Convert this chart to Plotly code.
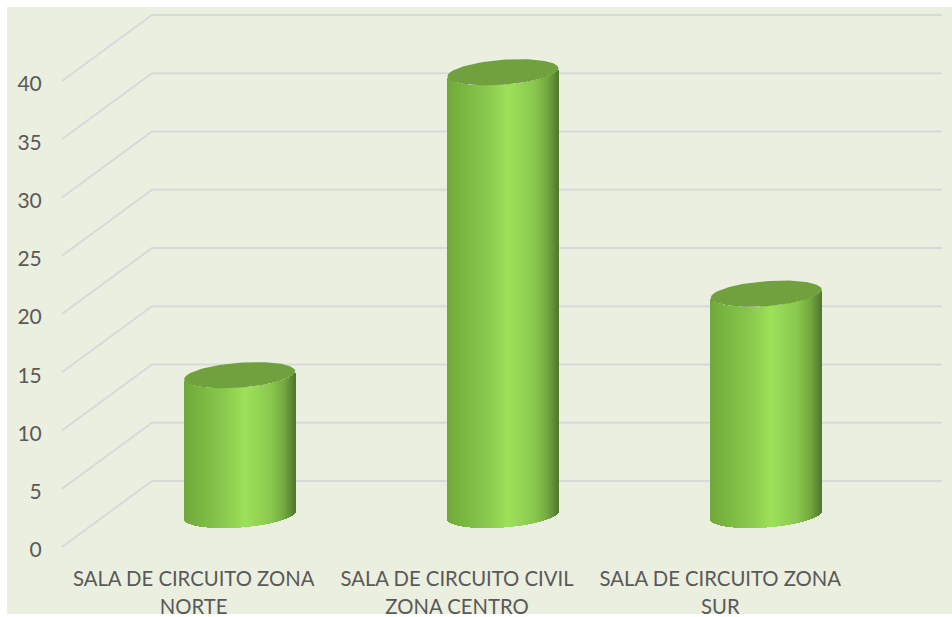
import math
import plotly.graph_objects as go

categories = [["SALA DE CIRCUITO ZONA", "NORTE"], ["SALA DE CIRCUITO CIVIL", "ZONA CENTRO"], ["SALA DE CIRCUITO ZONA", "SUR"]]
values = [12, 38, 19]
y_ticks = [0, 5, 10, 15, 20, 25, 30, 35, 40]

# figure geometry (pixels)
W, H = 952, 617
L, R, T, B = 62, 942, 8, 552
PX_X = 790 / 3          # px per category
PX_Y = 11.65            # px per value unit
ZERO = 547
DEPTH_X = 90 / PX_X     # wall offset, category units
DEPTH_Y = 66 / PX_Y     # wall offset, value units

x_range = [-0.5, -0.5 + (R - L) / PX_X]
y_range = [(ZERO - B) / PX_Y, (ZERO - T) / PX_Y]

BG = "#EBEFDF"
GRID = "#D7DADA"
TEXT = "#595959"
CAP = "#71A13E"
STOPS = [(0, (112, 168, 58)), (0.12, (120, 180, 64)), (0.35, (136, 199, 76)), (0.55, (157, 225, 90)),
         (0.78, (138, 200, 78)), (0.9, (116, 170, 64)), (0.97, (92, 136, 52)), (1, (82, 120, 48))]


def grad(t):
    for (a, ca), (b, cb) in zip(STOPS, STOPS[1:]):
        if t <= b:
            f = (t - a) / (b - a)
            return "rgb(%d,%d,%d)" % tuple(round(p + (q - p) * f) for p, q in zip(ca, cb))
    return "rgb(82,120,48)"


A_PX, B_PX, S_PX = 55.5, 12.5, 4.0   # ellipse half width, half height, shear
CYL_X = 46 / PX_X                    # cylinder centre offset from tick
CYL_Y = 32 / PX_Y                    # cylinder base lift


def ell_y(dx, sign):
    """Vertical offset (value units) of ellipse edge at dx px from centre; sign=+1 upper, -1 lower."""
    u = max(-1.0, min(1.0, dx / A_PX))
    return (S_PX * u + sign * B_PX * math.sqrt(1 - u * u)) / PX_Y


fig = go.Figure()

# wall grid lines with their floor-to-wall diagonals
grid_shapes = []
for t in y_ticks:
    grid_shapes.append(dict(
        type="path", xref="x", yref="y", layer="below", line=dict(color=GRID, width=2),
        path=f"M {-0.5} {t} L {-0.5 + DEPTH_X} {t + DEPTH_Y} L {x_range[1]} {t + DEPTH_Y}"))

N = 111
for i, v in enumerate(values):
    cx = i + CYL_X
    xs, bases, heights, cols = [], [], [], []
    for k in range(N):
        dx = k + 0.5 - N / 2
        xs.append(cx + dx / PX_X)
        b = CYL_Y + ell_y(dx, -1)
        top = CYL_Y + v + ell_y(dx, -1)
        bases.append(b)
        heights.append(top - b)
        cols.append(grad((k + 0.5) / N))
    fig.add_trace(go.Bar(x=xs, y=heights, base=bases, width=1 / PX_X, marker=dict(color=cols, line=dict(width=0)),
                         hoverinfo="skip", showlegend=False))
    rim_dx = [A_PX * math.cos(math.pi * j / 60) for j in range(61)]
    fig.add_trace(go.Scatter(
        x=[cx + d / PX_X for d in rim_dx] + [cx + d / PX_X for d in reversed(rim_dx)],
        y=[CYL_Y + v + ell_y(d, 1) for d in rim_dx] + [CYL_Y + v + ell_y(d, -1) for d in reversed(rim_dx)],
        mode="lines", fill="toself", fillcolor=CAP, line=dict(width=0), hoverinfo="skip", showlegend=False))

LABEL_PX = 20.3
tick_text = [f'<span style="font-size:{LABEL_PX}px">{a}</span><br><span style="font-size:{LABEL_PX}px">{b}</span>'
             for a, b in categories]

fig.update_layout(
    width=W, height=H, autosize=False,
    margin=dict(l=L, r=W - R, t=T, b=H - B, pad=0),
    paper_bgcolor="white", plot_bgcolor="rgba(0,0,0,0)",
    barmode="overlay", bargap=0, showlegend=False,
    font=dict(family="Lato, Carlito, sans-serif", color=TEXT, size=21),
    xaxis=dict(range=x_range, tickmode="array", tickvals=[0, 1, 2], ticktext=tick_text, automargin=False,
               showgrid=False, zeroline=False, showline=False, ticks="outside", ticklen=7,
               tickcolor="rgba(0,0,0,0)", tickfont=dict(size=21.5, color=TEXT), tickangle=0),
    yaxis=dict(range=y_range, tickmode="array", tickvals=y_ticks, ticktext=[str(t) for t in y_ticks], automargin=False,
               showgrid=False, zeroline=False, showline=False, ticks="outside", ticklen=15, ticklabelshift=3,
               tickcolor="rgba(0,0,0,0)", tickfont=dict(size=21, color=TEXT)),
    shapes=[
        dict(type="rect", xref="paper", yref="paper", layer="below", line=dict(width=0), fillcolor=BG,
             x0=(7 - L) / (R - L), x1=(W - L) / (R - L), y0=(B - 614) / (B - T), y1=(B - 7) / (B - T)),
    ] + grid_shapes + [
        dict(type="rect", xref="paper", yref="paper", layer="above", line=dict(width=0), fillcolor="white",
             x0=(0 - L) / (R - L), x1=(W - L) / (R - L), y0=(B - H) / (B - T), y1=(B - 614) / (B - T)),
    ],
)

fig.write_html("out.html", config=dict(displayModeBar=False, responsive=False),
               post_script="document.body.style.margin='0';document.body.style.overflow='hidden';")
